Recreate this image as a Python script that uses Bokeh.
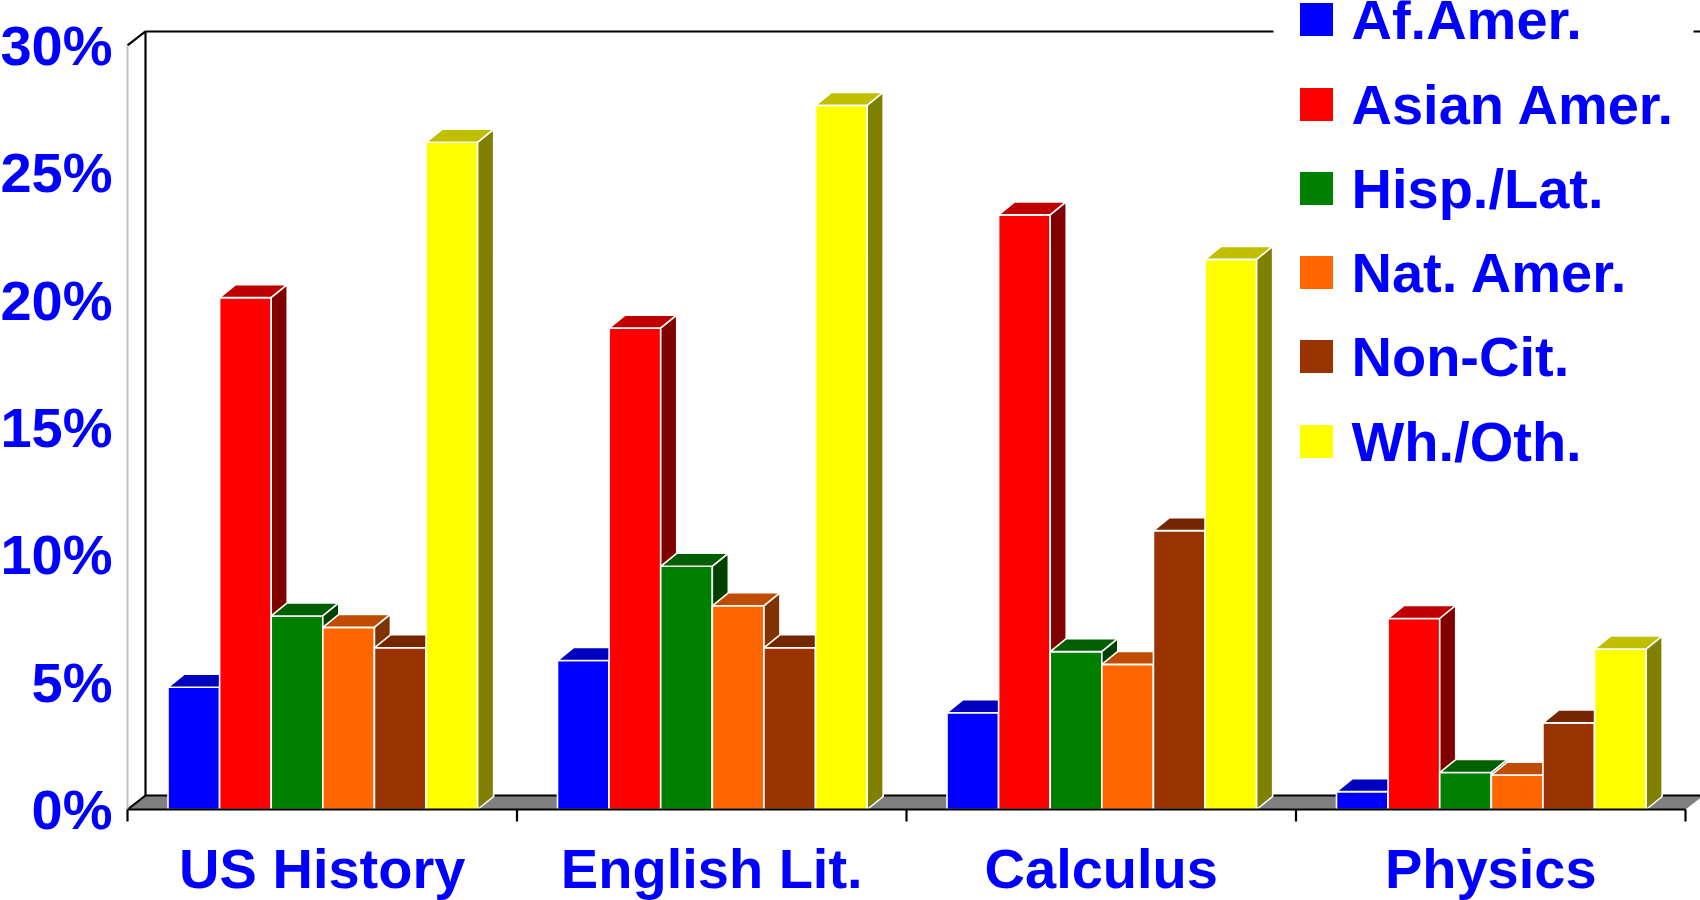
from bokeh.plotting import figure
from bokeh.models import Range1d, ColumnDataSource
from bokeh.core.properties import value
from bokeh.embed import file_html
from bokeh.resources import INLINE

# ---------------- data ----------------
categories = ["US History", "English Lit.", "Calculus", "Physics"]
groups = ["Af.Amer.", "Asian Amer.", "Hisp./Lat.", "Nat. Amer.", "Non-Cit.", "Wh./Oth."]
af_amer = [4.8, 5.85, 3.8, 0.7]
asian_amer = [20.1, 18.9, 23.35, 7.5]
hisp_lat = [7.6, 9.55, 6.2, 1.45]
nat_amer = [7.15, 8.0, 5.7, 1.35]
non_cit = [6.35, 6.35, 10.95, 3.4]
wh_oth = [26.2, 27.65, 21.6, 6.3]
y_ticks = [0, 5, 10, 15, 20, 25, 30]
y_tick_labels = ["0%", "5%", "10%", "15%", "20%", "25%", "30%"]

front_colors = ["#0000FF", "#FF0000", "#008000", "#FF6600", "#993300", "#FFFF00"]
top_colors = ["#0000BF", "#BF0000", "#006000", "#BF4C00", "#732600", "#BFBF00"]
side_colors = ["#000080", "#800000", "#004000", "#803300", "#4D1A00", "#808000"]

series_values = [af_amer, asian_amer, hisp_lat, nat_amer, non_cit, wh_oth]

# ---------------- geometry (pixels per data unit) ----------------
W, H = 1700, 900
ORG_X, ORG_Y = 127, 809   # pixel position of (first category start, 0%)
PX_X = 389.5              # pixels per category
PX_Y = 25.467             # pixels per percent
x0 = -ORG_X / PX_X
x1 = x0 + W / PX_X
y0 = -(H - ORG_Y) / PX_Y
y1 = y0 + H / PX_Y

def dx(px):
    return (px - ORG_X) / PX_X

def dy(py):
    return (ORG_Y - py) / PX_Y

fdx, fdy = 18 / PX_X, 14 / PX_Y   # floor / wall depth
bdx, bdy = 16 / PX_X, 13 / PX_Y   # bar depth
bar_start, bar_w = 0.104, 0.1325
ymax = 30

FONT = value("Liberation Sans")
FSIZE = "56px"
BLUE = "#0000FF"

p = figure(width=W, height=H, x_range=Range1d(x0, x1), y_range=Range1d(y0, y1),
           output_backend="svg", toolbar_location=None, min_border=0,
           x_axis_location=None, y_axis_location=None,
           outline_line_color=None, background_fill_color="white",
           border_fill_color="white")
p.grid.visible = False

ncat = len(categories)

# floor
p.patch([0, ncat, ncat + fdx, fdx], [0, 0, fdy, fdy], fill_color="#808080", line_color=None)

# back wall / frame lines (top line interrupted by the legend box)
p.segment(x0=[fdx, fdx, fdx, 0, 0, dx(1693)],
          y0=[fdy, fdy, ymax + fdy, 0, ymax, ymax + fdy],
          x1=[ncat + fdx, fdx, dx(1273), fdx, fdx, ncat + fdx],
          y1=[fdy, ymax + fdy, ymax + fdy, fdy, ymax + fdy, ymax + fdy],
          line_color="black", line_width=2.2)
# front value axis (light)
p.segment(x0=[0], y0=[0], x1=[0], y1=[ymax], line_color="#C0C0C0", line_width=2)

# bars (painter order left to right)
xs, ys, fills = [], [], []
for i in range(ncat):
    for j, vals in enumerate(series_values):
        v = vals[i]
        l = i + bar_start + j * bar_w
        r = l + bar_w
        xs.append([l, r, r, l]); ys.append([0, 0, v, v]); fills.append(front_colors[j])
        xs.append([l, r, r + bdx, l + bdx]); ys.append([v, v, v + bdy, v + bdy]); fills.append(top_colors[j])
        xs.append([r, r + bdx, r + bdx, r]); ys.append([0, bdy, v + bdy, v]); fills.append(side_colors[j])
src = ColumnDataSource(dict(xs=xs, ys=ys, fill=fills))
p.patches("xs", "ys", source=src, fill_color="fill", line_color="white", line_width=1.6)

# front baseline + category ticks
p.segment(x0=[0], y0=[0], x1=[ncat], y1=[0], line_color="black", line_width=2.2)
tick_len = 12 / PX_Y
p.segment(x0=list(range(ncat + 1)), y0=[0] * (ncat + 1), x1=list(range(ncat + 1)),
          y1=[-tick_len] * (ncat + 1), line_color="black", line_width=2.2)

# y tick labels
p.text(x=[dx(112)] * len(y_ticks), y=y_ticks, text=y_tick_labels,
       text_font=FONT, text_font_style="bold", text_font_size=FSIZE, text_color=BLUE,
       text_align="right", text_baseline="middle")

# category labels
p.text(x=[i + 0.5 for i in range(ncat)], y=[dy(868)] * ncat, text=categories,
       text_font=FONT, text_font_style="bold", text_font_size=FSIZE, text_color=BLUE,
       text_align="center", text_baseline="middle")

# legend
leg_row_px = [19, 104, 188, 272, 356, 441]
leg_ys = [dy(v) for v in leg_row_px]
p.scatter(x=[dx(1316)] * len(groups), y=leg_ys, marker="square", size=33,
          fill_color=front_colors, line_color=None)
p.text(x=[dx(1351)] * len(groups), y=leg_ys, text=groups,
       text_font=FONT, text_font_style="bold", text_font_size=FSIZE, text_color=BLUE,
       text_align="left", text_baseline="middle")

open("out.html", "w").write(file_html(p, INLINE))
